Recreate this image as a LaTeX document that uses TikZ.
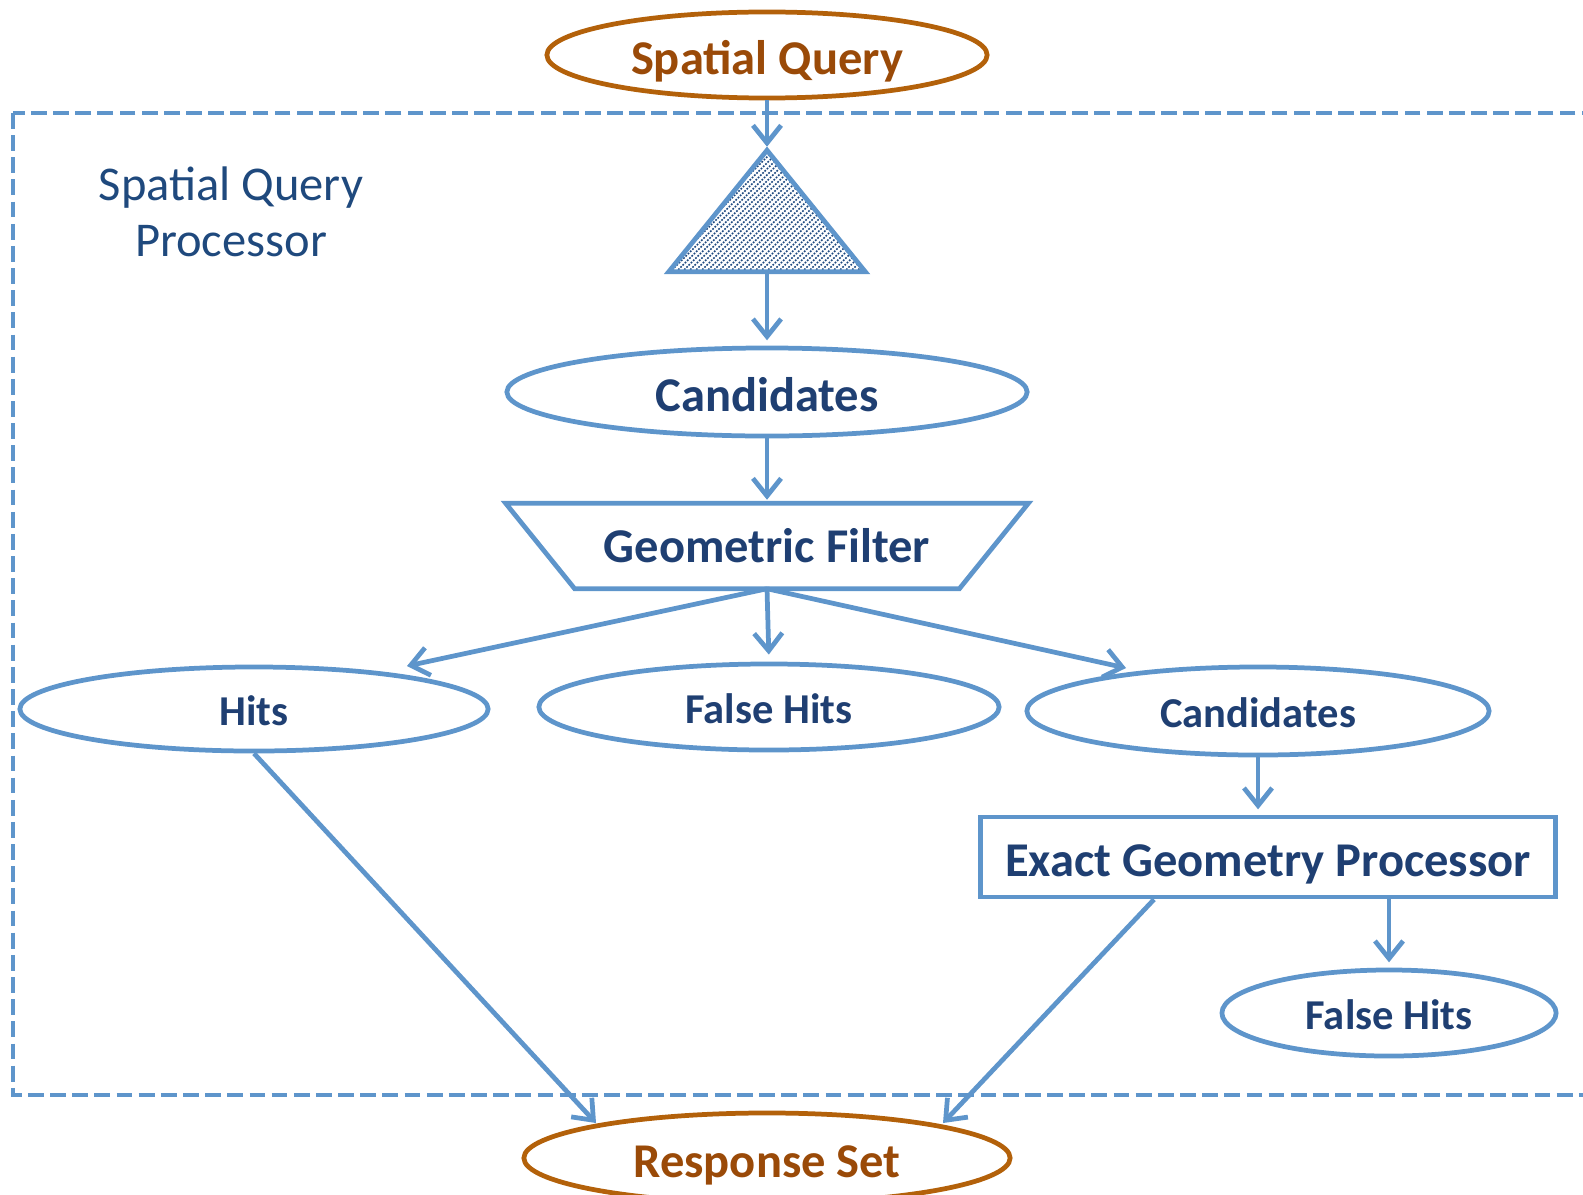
\documentclass[tikz,border=0pt]{standalone}
\usepackage{fontspec}
\setmainfont{Carlito}
\usetikzlibrary{arrows.meta,calc,shapes.geometric}
\definecolor{lineblue}{HTML}{5E95CB}
\definecolor{textblue}{HTML}{1F3F72}
\definecolor{procblue}{HTML}{1F497D}
\definecolor{brownline}{HTML}{B3610A}
\definecolor{browntext}{HTML}{9A4A08}
\definecolor{hatchblue}{HTML}{1F4A80}
\begin{document}
\begin{tikzpicture}[x=0.01cm,y=-0.01cm,
  lbl/.style={font=\fontsize{13.8}{16}\selectfont\bfseries, text=textblue, text height=14pt, text depth=3pt},
  smalllbl/.style={font=\fontsize{12.1}{14}\selectfont\bfseries, text height=12.2pt, text depth=2.6pt},
  oval/.style={ellipse, draw=lineblue, line width=1.35pt, inner sep=0pt, lbl},
  termoval/.style={ellipse, draw=brownline, line width=1.35pt, inner sep=0pt, lbl, text=browntext},
  boxnode/.style={rectangle, draw=lineblue, line width=1.35pt, inner sep=0pt, lbl},
  shapeline/.style={draw=lineblue, line width=1.35pt, line join=miter},
  conn/.style={draw=lineblue, line width=1.35pt, -{Straight Barb[length=5pt,width=8pt,line width=1.35pt]}},
  region/.style={draw=lineblue, line width=1.15pt, dash pattern=on 4.5pt off 1.8pt},
  hatchline/.style={draw=hatchblue, line width=0.42pt, dash pattern=on 0.5pt off 0.4pt}
]
\useasboundingbox (0,0) rectangle (1583,1194);
\clip (0,0) rectangle (1583,1194);

% region
\draw[region] (13,113) rectangle (1640,1095);
\node[font=\fontsize{13.8}{15.8}\selectfont, text=procblue, align=center] (proc) at (231,212) {Spatial Query\\Processor};

% nodes
\node[termoval, minimum width=4.40cm, minimum height=0.86cm] (sq) at (767,55) {Spatial Query};
\node[minimum width=1.95cm, minimum height=1.20cm, inner sep=0pt] (tri) at (767,211) {};
\begin{scope}
  \clip (tri.south west) -- (tri.north) -- (tri.south east) -- cycle;
  \foreach \i in {520,526,...,880} {
    \draw[hatchline] (\i,290) -- ++(160,-160);
  }
\end{scope}
\draw[shapeline] (tri.south west) -- (tri.north) -- (tri.south east) -- cycle;

\node[oval, minimum width=5.20cm, minimum height=0.88cm] (cand1) at (767,392) {Candidates};

\node[lbl, text height=12.6pt, minimum width=5.21cm, minimum height=0.84cm, inner sep=0pt] (gf) at (767,546) {Geometric Filter};
\draw[shapeline] (gf.north west) -- (gf.north east) -- ($(gf.south east)+(-69,0)$) -- ($(gf.south west)+(69,0)$) -- cycle;

\node[oval, smalllbl, minimum width=4.68cm, minimum height=0.84cm] (hits) at (254,709) {Hits};
\node[oval, smalllbl, minimum width=4.60cm, minimum height=0.86cm] (fh1) at (769,707) {False Hits};
\node[oval, smalllbl, minimum width=4.62cm, minimum height=0.88cm] (cand2) at (1258,711) {Candidates};
\node[boxnode, minimum width=5.75cm, minimum height=0.80cm] (egp) at (1268,857) {Exact Geometry Processor};
\node[oval, smalllbl, minimum width=3.34cm, minimum height=0.86cm] (fh2) at (1389,1013) {False Hits};
\node[termoval, minimum width=4.86cm, minimum height=0.90cm] (rs) at (767,1158) {Response Set};

% connectors
\draw[conn, shorten >=1pt] (sq.south) -- (tri.north);
\draw[conn, shorten >=1.5pt] (tri.south) -- (cand1.north);
\draw[conn, shorten >=1pt] (cand1.south) -- (gf.north);
\draw[conn] (gf.south) -- ($(hits.center)+(153,-43)$);
\draw[conn, shorten >=2pt] (gf.south) -- (fh1.north);
\draw[conn] (gf.south) -- ($(cand2.center)+(-132,-43)$);
\draw[conn, shorten >=1.5pt] (cand2.south) -- (cand2.south |- egp.north);
\draw[conn, shorten >=1.5pt] (egp.south -| fh2.north) -- (fh2.north);
\draw[conn] (hits.south) -- ($(rs.center)+(-171,-35)$);
\draw[conn] ($(egp.south)+(-114,0)$) -- ($(rs.center)+(176,-35)$);
\end{tikzpicture}
\end{document}
